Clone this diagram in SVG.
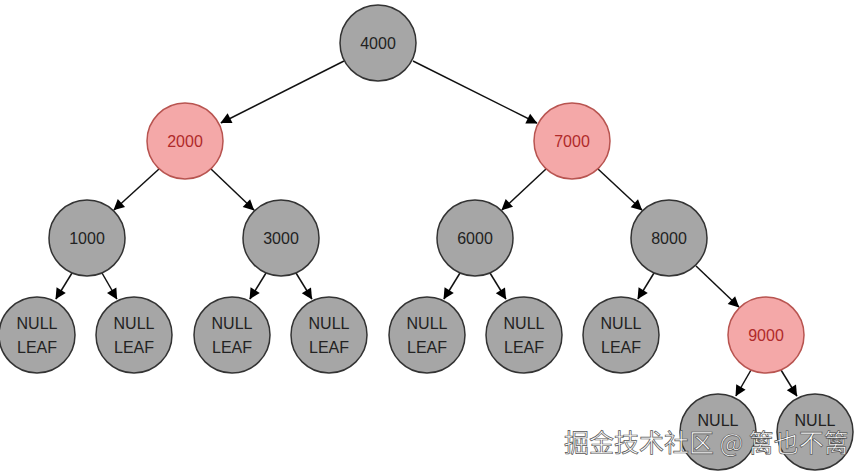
<svg xmlns="http://www.w3.org/2000/svg" width="867" height="474" viewBox="0 0 867 474">
<style>
.g{fill:#a6a6a6;stroke:#333;stroke-width:1.5}
.r{fill:#f4a8a8;stroke:#b85450;stroke-width:1.5}
text{font-family:"Liberation Sans",Arial,sans-serif;font-size:16px;text-anchor:middle;fill:#222}
.rt{fill:#b02a2a}
.e line{stroke:#111;stroke-width:1.5;marker-end:url(#a)}
.wm{font-family:"Noto Sans CJK SC",sans-serif;font-size:25px;fill:#fff;stroke:#555;stroke-width:0.7;text-anchor:start}
</style>
<defs><marker id="a" viewBox="0 0 10 10" refX="9" refY="5" markerWidth="6" markerHeight="6" orient="auto" markerUnits="userSpaceOnUse" overflow="visible"><path d="M0,0L10,5L0,10z" fill="#000" transform="scale(1.8) translate(-4.5,-2)"/></marker></defs>
<rect width="867" height="474" fill="#fff"/>
<g class="e">
<line x1="344" y1="61" x2="221" y2="123"/>
<line x1="413" y1="61" x2="537" y2="123"/>
<line x1="159" y1="169" x2="114" y2="210"/>
<line x1="211" y1="169" x2="254" y2="210"/>
<line x1="546" y1="169" x2="502" y2="210"/>
<line x1="598" y1="169" x2="642" y2="210"/>
<line x1="72" y1="273" x2="56" y2="299"/>
<line x1="102" y1="273" x2="117" y2="299"/>
<line x1="266" y1="273" x2="250" y2="299"/>
<line x1="296" y1="273" x2="312" y2="299"/>
<line x1="460" y1="273" x2="444" y2="299"/>
<line x1="490" y1="273" x2="506" y2="299"/>
<line x1="654" y1="273" x2="638" y2="299"/>
<line x1="696" y1="266" x2="739" y2="307"/>
<line x1="751" y1="370" x2="736" y2="396"/>
<line x1="781" y1="370" x2="797" y2="396"/>
</g>
<g id="n4000"><circle class="g" cx="378" cy="43" r="38"/><text x="378" y="49">4000</text></g>
<g id="n2000"><circle class="r" cx="185" cy="141" r="38"/><text class="rt" x="185" y="147">2000</text></g>
<g id="n7000"><circle class="r" cx="572" cy="141" r="38"/><text class="rt" x="572" y="147">7000</text></g>
<g id="n1000"><circle class="g" cx="87" cy="238" r="38"/><text x="87" y="244">1000</text></g>
<g id="n3000"><circle class="g" cx="281" cy="238" r="38"/><text x="281" y="244">3000</text></g>
<g id="n6000"><circle class="g" cx="475" cy="238" r="38"/><text x="475" y="244">6000</text></g>
<g id="n8000"><circle class="g" cx="669" cy="238" r="38"/><text x="669" y="244">8000</text></g>
<g id="l1"><circle class="g" cx="37" cy="335" r="38"/><text x="37" y="329">NULL</text><text x="37" y="353">LEAF</text></g>
<g id="l2"><circle class="g" cx="134" cy="335" r="38"/><text x="134" y="329">NULL</text><text x="134" y="353">LEAF</text></g>
<g id="l3"><circle class="g" cx="232" cy="335" r="38"/><text x="232" y="329">NULL</text><text x="232" y="353">LEAF</text></g>
<g id="l4"><circle class="g" cx="329" cy="335" r="38"/><text x="329" y="329">NULL</text><text x="329" y="353">LEAF</text></g>
<g id="l5"><circle class="g" cx="427" cy="335" r="38"/><text x="427" y="329">NULL</text><text x="427" y="353">LEAF</text></g>
<g id="l6"><circle class="g" cx="524" cy="335" r="38"/><text x="524" y="329">NULL</text><text x="524" y="353">LEAF</text></g>
<g id="l7"><circle class="g" cx="621" cy="335" r="38"/><text x="621" y="329">NULL</text><text x="621" y="353">LEAF</text></g>
<g id="n9000"><circle class="r" cx="766" cy="335" r="38"/><text class="rt" x="766" y="341">9000</text></g>
<g id="l8"><circle class="g" cx="718" cy="432" r="38"/><text x="718" y="426">NULL</text></g>
<g id="l9"><circle class="g" cx="815" cy="432" r="38"/><text x="815" y="426">NULL</text></g>
<text class="wm" x="564" y="452">掘金技术社区 @ 篱也不篱</text>
</svg>
